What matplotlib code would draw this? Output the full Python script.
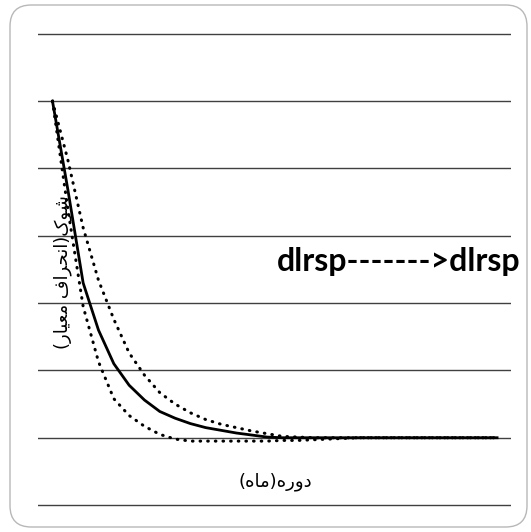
import matplotlib
matplotlib.use('Agg')
import matplotlib.pyplot as plt
from matplotlib.patches import FancyBboxPatch

# impulse response
periods = list(range(1, 31))
response = [5.0, 3.69, 2.3, 1.6, 1.1, 0.78, 0.56, 0.39, 0.29, 0.21,
            0.15, 0.11, 0.07, 0.04, 0.01] + [0.0] * 15
upper_band = [5.0, 4.13, 3.12, 2.34, 1.76, 1.26, 0.93, 0.67, 0.5, 0.37,
              0.27, 0.2, 0.15, 0.1, 0.06, 0.02, 0.01] + [0.0] * 13
lower_band = [5.0, 3.4, 1.95, 1.13, 0.58, 0.33, 0.17, 0.05, -0.02, -0.05,
              -0.05, -0.05, -0.05, -0.05, -0.05, -0.04, -0.04, -0.03, -0.02, -0.01] + [0.0] * 10
grid_values = [-1, 0, 1, 2, 3, 4, 5, 6]

title_text = 'dlrsp------->dlrsp'
# persian labels written in visual order with presentation forms
ylabel_text = '(\uFEAD\uFE8E\uFEF4\uFECC\uFEE3 \uFED1\uFE8D\uFEAE\uFEA4\uFEE7\uFE8D)\uFB8E\uFEEE\uFEB7'
xlabel_text = '(\uFEE9\uFE8E\uFEE3)\uFEE9\uFEAD\uFEED\uFEA9'

fig = plt.figure(figsize=(5.31, 5.32), dpi=100)
ax = fig.add_axes([0.0721, 0.038, 0.8903, 0.911])

ax.plot(periods, response, color='black', lw=2.0, zorder=3)
ax.plot(periods, upper_band, color='black', lw=2.2, linestyle=(0, (0.2, 2.3)),
        dash_capstyle='round', zorder=3)
ax.plot(periods, lower_band, color='black', lw=2.2, linestyle=(0, (0.2, 2.3)),
        dash_capstyle='round', zorder=3)

ax.set_xlim(0.074, 30.91)
ax.set_ylim(-1.1, 6.1)
ax.set_yticks(grid_values)
ax.set_xticks([])
ax.grid(axis='y', color='#404040', lw=1.0)
ax.tick_params(left=False, labelleft=False)
for s in ax.spines.values():
    s.set_visible(False)

ax.text(0.763, 0.517, title_text, transform=ax.transAxes, ha='center', va='center',
        fontsize=23, fontweight='bold', family='Lato')
ax.text(0.051, 0.495, ylabel_text, transform=ax.transAxes, ha='center', va='center',
        rotation=90, fontsize=13, family='DejaVu Sans')
ax.text((275 - 38.3) / 472.7, 0.062, xlabel_text, transform=ax.transAxes, ha='center',
        va='center', fontsize=13, family='DejaVu Sans')

border = FancyBboxPatch((10 / 531, 5 / 532), 517 / 531, 522 / 532,
                        boxstyle='round,pad=0,rounding_size=0.04',
                        transform=fig.transFigure, facecolor='none',
                        edgecolor='#b8b8b8', lw=1.0)
fig.patches.append(border)

fig.savefig('out.png', dpi=100)
